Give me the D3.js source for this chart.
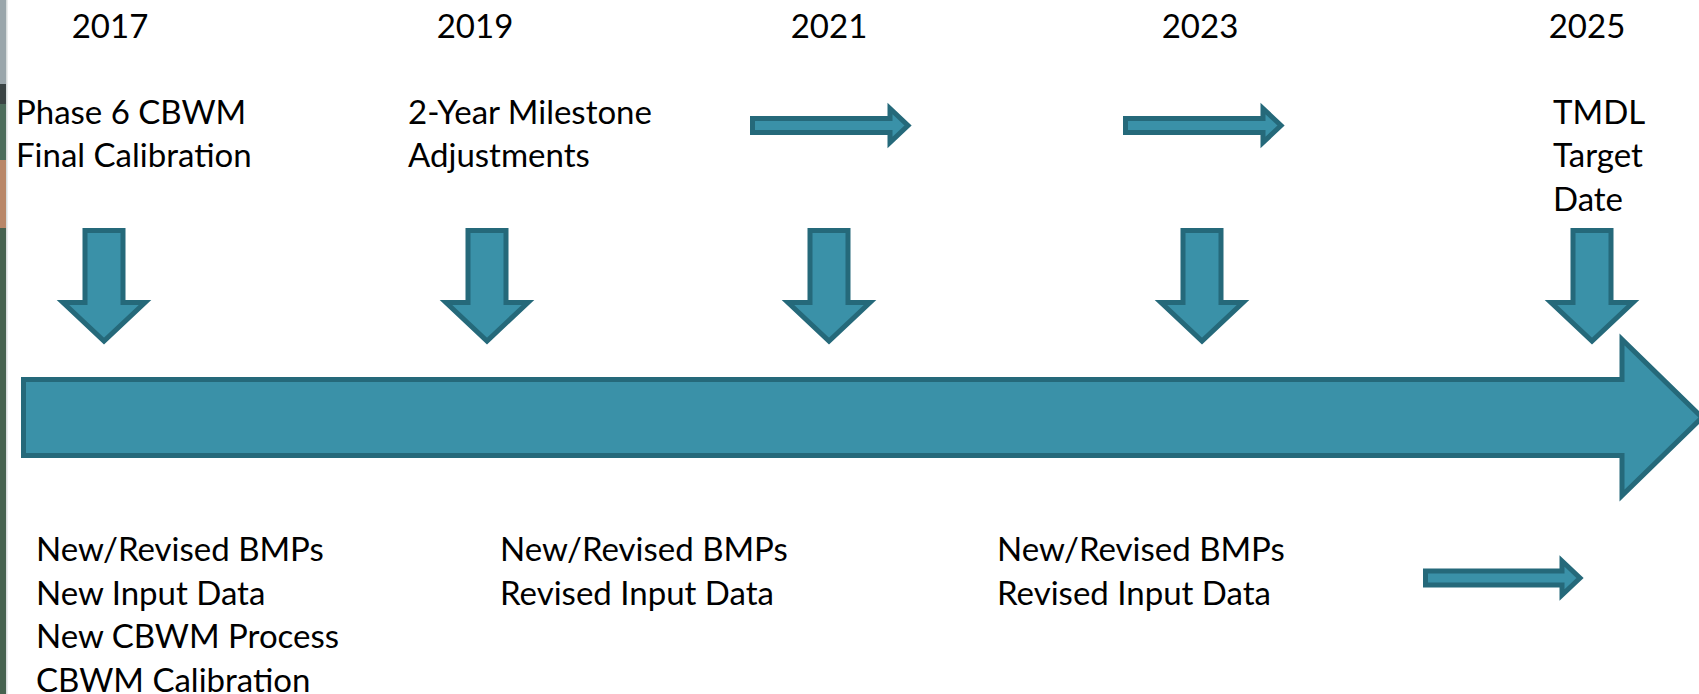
<!DOCTYPE html>
<html>
<head>
<meta charset="utf-8">
<script src="https://cdn.jsdelivr.net/npm/d3@7"></script>
<style>
  html, body { margin: 0; padding: 0; background: #fff; overflow: hidden; }
  svg { display: block; }
  text { font-family: Lato, "Open Sans", sans-serif; fill: #000; }
</style>
</head>
<body>
<div id="chart"></div>
<script>
// DATA
const years = [2017, 2019, 2021, 2023, 2025];
const milestoneNotes = [
  ["Phase 6 CBWM", "Final Calibration"],
  ["2-Year Milestone", "Adjustments"],
  [],
  [],
  ["TMDL", "Target", "Date"]
];
const periodNotes = [
  ["New/Revised BMPs", "New Input Data", "New CBWM Process", "CBWM Calibration"],
  ["New/Revised BMPs", "Revised Input Data"],
  ["New/Revised BMPs", "Revised Input Data"]
];
// years that carry a "continues" arrow in the top row
const continuedYears = [2021, 2023];

// LAYOUT
const chartWidth = 1699;
const chartHeight = 694;
const fillColor = "#3a91a8";
const strokeColor = "#25697a";
const yearX = [104, 487, 829, 1202, 1592]; // down arrow centres
const noteDx = [-88, -79, 0, 0, -39];
const periodX = [36, 500, 997];
const lineGap = 43.5;
const noteFont = 33;

const xScale = d3.scaleLinear().domain(years).range(yearX);

const svg = d3.create("svg")
  .attr("width", chartWidth)
  .attr("height", chartHeight)
  .attr("viewBox", `0 0 ${chartWidth} ${chartHeight}`);

// PHOTO STRIP ON THE LEFT EDGE
const stripBands = [
  { y0: 0, y1: 84, c: "#9aa6ab" },
  { y0: 84, y1: 104, c: "#3b4444" },
  { y0: 104, y1: 160, c: "#4d6d5c" },
  { y0: 160, y1: 228, c: "#b98768" },
  { y0: 228, y1: 694, c: "#46624f" }
];
svg.append("g").selectAll("rect")
  .data(stripBands)
  .join("rect")
  .attr("x", 0)
  .attr("y", (d) => d.y0)
  .attr("width", 6)
  .attr("height", (d) => d.y1 - d.y0)
  .attr("fill", (d) => d.c);
svg.append("rect").attr("x", 6).attr("y", 0).attr("width", 1.5).attr("height", chartHeight).attr("fill", "#d8dcdc");

const arrowStyle = (sel) => sel
  .attr("fill", fillColor)
  .attr("stroke", strokeColor)
  .attr("stroke-width", 5)
  .attr("stroke-linejoin", "miter");

// MAIN TIMELINE ARROW
const mainArrow = (x0, x1, yc) => {
  const p = d3.path();
  const bh = 38, hh = 78, hl = 80;
  p.moveTo(x0, yc - bh);
  p.lineTo(x1 - hl, yc - bh);
  p.lineTo(x1 - hl, yc - hh);
  p.lineTo(x1, yc);
  p.lineTo(x1 - hl, yc + hh);
  p.lineTo(x1 - hl, yc + bh);
  p.lineTo(x0, yc + bh);
  p.closePath();
  return p.toString();
};
svg.append("path")
  .attr("d", mainArrow(23.5, 1702, 417.5))
  .call(arrowStyle);

// DOWN ARROWS AT EACH MILESTONE YEAR
const downArrow = (cx) => {
  const p = d3.path();
  const sw = 19, hw = 41, top = 230.5, neck = 302.5, tip = 341;
  p.moveTo(cx - sw, top);
  p.lineTo(cx + sw, top);
  p.lineTo(cx + sw, neck);
  p.lineTo(cx + hw, neck);
  p.lineTo(cx, tip);
  p.lineTo(cx - hw, neck);
  p.lineTo(cx - sw, neck);
  p.closePath();
  return p.toString();
};
svg.append("g").selectAll("path")
  .data(years)
  .join("path")
  .attr("d", (d) => downArrow(xScale(d)))
  .call(arrowStyle);

// SMALL "CONTINUES" ARROWS
const thinArrow = (x0, x1, yc) => {
  const p = d3.path();
  const bh = 7, hh = 17, hl = 18;
  p.moveTo(x0, yc - bh);
  p.lineTo(x1 - hl, yc - bh);
  p.lineTo(x1 - hl, yc - hh);
  p.lineTo(x1, yc);
  p.lineTo(x1 - hl, yc + hh);
  p.lineTo(x1 - hl, yc + bh);
  p.lineTo(x0, yc + bh);
  p.closePath();
  return p.toString();
};
svg.append("g").selectAll("path")
  .data(continuedYears)
  .join("path")
  .attr("d", (d) => thinArrow(xScale(d) - 76.5, xScale(d) + 79, 125.5))
  .call(arrowStyle);
svg.append("path")
  .attr("d", thinArrow(1425.5, 1580, 578))
  .call(arrowStyle);

// YEAR LABELS
svg.append("g").selectAll("text")
  .data(years)
  .join("text")
  .attr("x", (d, i) => xScale(d) + [6, -12, 0, -2, -5][i])
  .attr("y", 38)
  .attr("text-anchor", "middle")
  .attr("font-size", 33)
  .text((d) => d);

// NOTES ABOVE THE TIMELINE
const noteGroups = svg.append("g").selectAll("g")
  .data(milestoneNotes.map((lines, i) => ({ year: years[i], lines, dx: noteDx[i] })))
  .join("g");
noteGroups.selectAll("text")
  .data((d) => d.lines.map((t, j) => ({ t, j, x: xScale(d.year) + d.dx })))
  .join("text")
  .attr("x", (d) => d.x)
  .attr("y", (d) => 123.5 + d.j * lineGap)
  .attr("font-size", noteFont)
  .text((d) => d.t);

// NOTES BELOW THE TIMELINE
const periodGroups = svg.append("g").selectAll("g")
  .data(periodNotes.map((lines, i) => ({ lines, x: periodX[i] })))
  .join("g");
periodGroups.selectAll("text")
  .data((d) => d.lines.map((t, j) => ({ t, j, x: d.x })))
  .join("text")
  .attr("x", (d) => d.x)
  .attr("y", (d) => 561 + d.j * lineGap)
  .attr("font-size", noteFont)
  .text((d) => d.t);

document.getElementById("chart").append(svg.node());
</script>
</body>
</html>
